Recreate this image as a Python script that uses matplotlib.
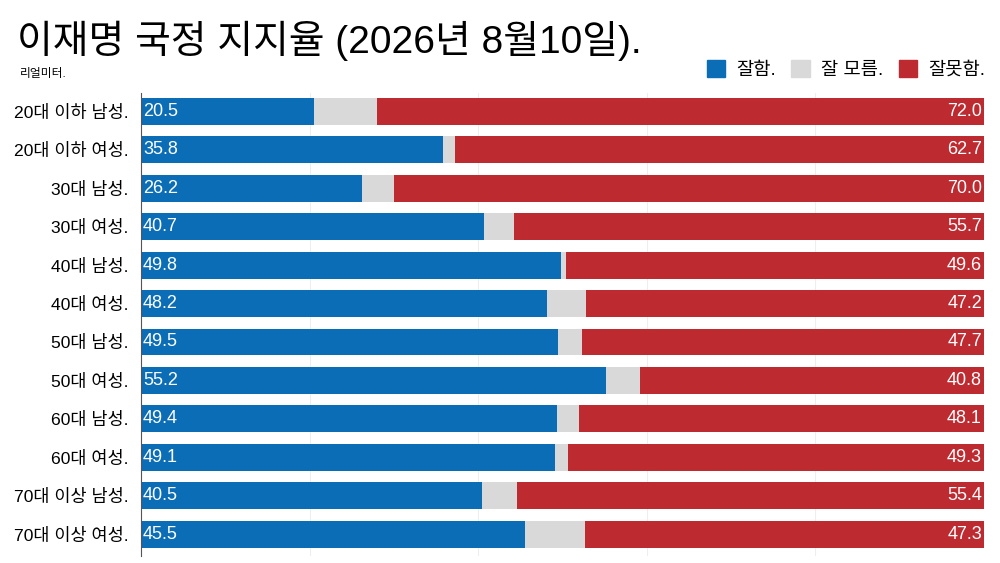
import matplotlib
matplotlib.use("Agg")
import matplotlib.pyplot as plt
from matplotlib.patches import Patch

plt.rcParams['font.family'] = ['Liberation Sans', 'Noto Sans CJK KR', 'DejaVu Sans']

groups = ["20대 이하 남성.", "20대 이하 여성.", "30대 남성.", "30대 여성.",
          "40대 남성.", "40대 여성.", "50대 남성.", "50대 여성.",
          "60대 남성.", "60대 여성.", "70대 이상 남성.", "70대 이상 여성."]
good = [20.5, 35.8, 26.2, 40.7, 49.8, 48.2, 49.5, 55.2, 49.4, 49.1, 40.5, 45.5]
unsure = [7.5, 1.5, 3.8, 3.6, 0.6, 4.6, 2.8, 4.0, 2.5, 1.6, 4.1, 7.2]
bad = [72.0, 62.7, 70.0, 55.7, 49.6, 47.2, 47.7, 40.8, 48.1, 49.3, 55.4, 47.3]
legend_labels = ["잘함.", "잘 모름.", "잘못함."]

c_good = "#0b6db5"
c_unsure = "#d9d9d9"
c_bad = "#bd2a30"

fig = plt.figure(figsize=(10, 5.63), dpi=100)
ax = fig.add_axes([0.141, 0.0124, 0.843, 0.8224])

y = list(range(len(groups)))
left2 = [g + u for g, u in zip(good, unsure)]
ax.barh(y, good, height=0.7, color=c_good, zorder=2)
ax.barh(y, unsure, left=good, height=0.7, color=c_unsure, zorder=2)
ax.barh(y, bad, left=left2, height=0.7, color=c_bad, zorder=2)

for i in y:
    ax.text(0.25, i, f"{good[i]:.1f}", color="white", fontsize=13,
            ha="left", va="center", zorder=3)
    ax.text(99.75, i, f"{bad[i]:.1f}", color="white", fontsize=13,
            ha="right", va="center", zorder=3)

ax.set_xlim(0, 100)
ax.set_ylim(11.57, -0.48)
ax.set_yticks(y)
ax.set_yticklabels(groups, fontsize=12.6)
ax.tick_params(axis="y", length=0, pad=9)
ax.set_xticks([20, 40, 60, 80])
ax.tick_params(axis="x", length=0, labelbottom=False)
ax.grid(axis="x", color="#eeeeee", linewidth=0.8, zorder=0)
for s in ["top", "right", "bottom"]:
    ax.spines[s].set_visible(False)
ax.spines["left"].set_color("#555555")
ax.spines["left"].set_linewidth(0.8)

fig.text(0.017, 0.927, "이재명 국정 지지율 (2026년 8월10일).", fontsize=28,
         ha="left", va="center")
fig.text(0.02, 0.868, "리얼미터.", fontsize=8.5, ha="left", va="center")

handles = [Patch(color=c_good), Patch(color=c_unsure), Patch(color=c_bad)]
fig.legend(handles, legend_labels, ncol=3, loc="center right",
           bbox_to_anchor=(0.993, 0.877), frameon=False, fontsize=13.5,
           handlelength=1.0, handleheight=1.0, handletextpad=0.6,
           columnspacing=0.8, borderaxespad=0)

fig.savefig("out.png", dpi=100)
